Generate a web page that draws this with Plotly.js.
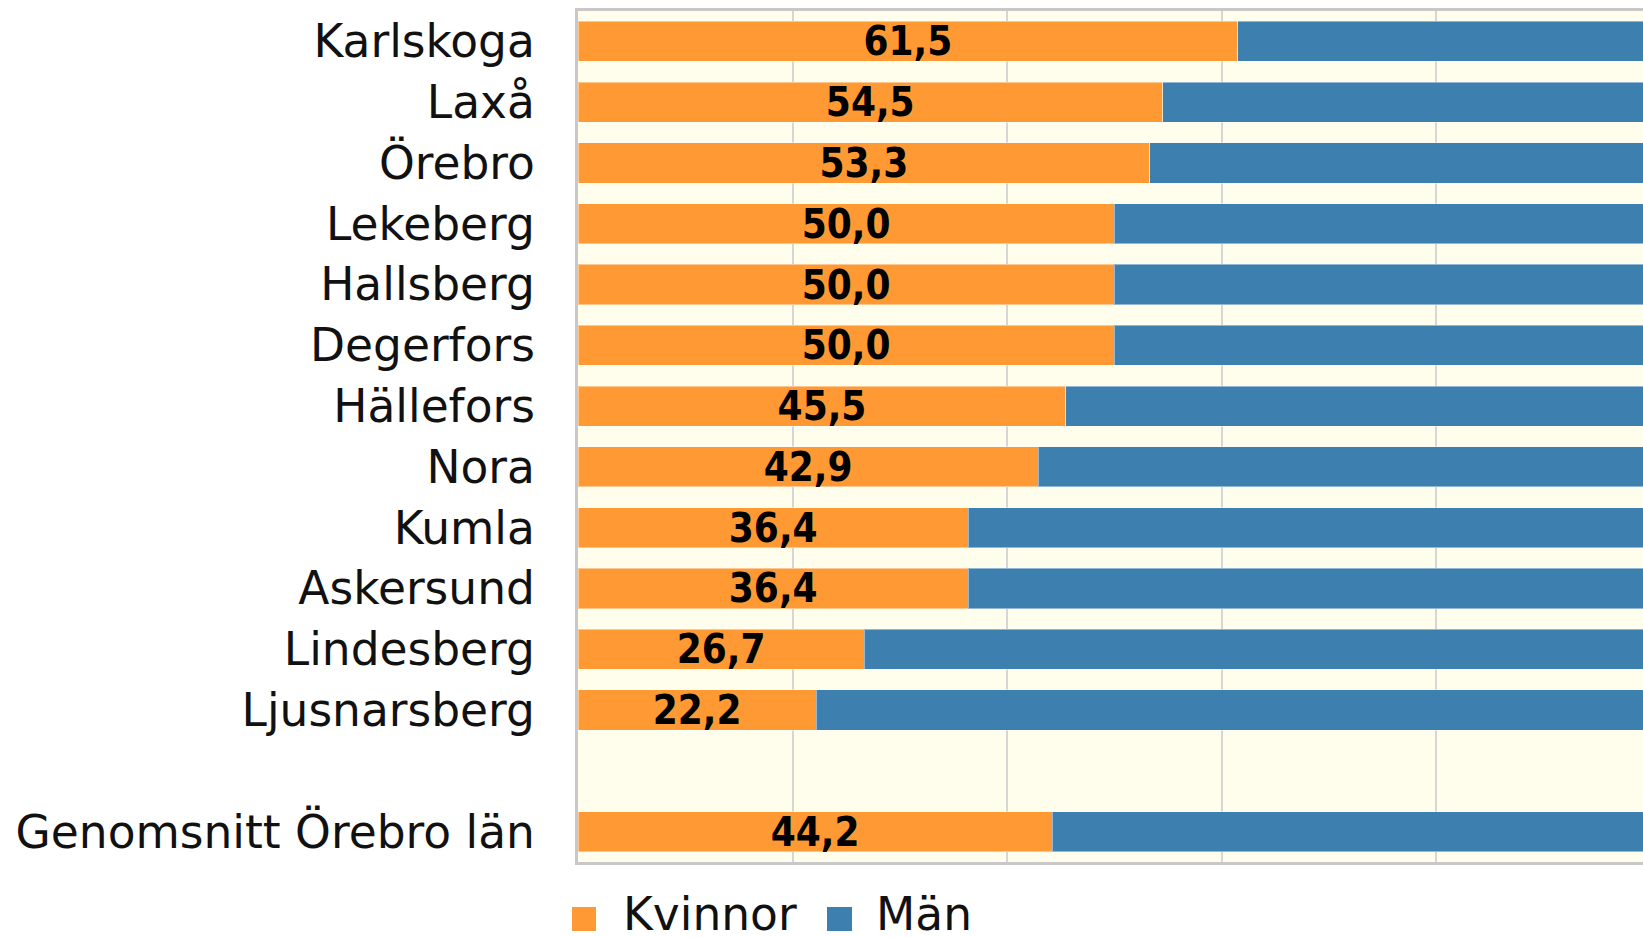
<!DOCTYPE html>
<html>
<head>
<meta charset="utf-8">
<script src="https://cdn.plot.ly/plotly-3.0.1.min.js"></script>
<style>html,body{margin:0;padding:0;background:#fff;overflow:hidden}</style>
</head>
<body>
<div id="chart" style="width:1643px;height:937px"></div>
<script>
const categories = ["Karlskoga","Laxå","Örebro","Lekeberg","Hallsberg","Degerfors","Hällefors","Nora","Kumla","Askersund","Lindesberg","Ljusnarsberg"," ","Genomsnitt Örebro län"];
const kvinnor = [61.5,54.5,53.3,50.0,50.0,50.0,45.5,42.9,36.4,36.4,26.7,22.2,null,44.2];
const man = [38.5,45.5,46.7,50.0,50.0,50.0,54.5,57.1,63.6,63.6,73.3,77.8,null,55.8];
const seriesNames = ["Kvinnor","Män"];
const colors = ["#FF9933","#3D7FAF"];

const L = 578, T = 11, W = 1643, H = 937, B = 75;
const pw = W - L, ph = H - T - B;
const px = v => (v - L) / pw;
const py = v => (H - B - v) / ph;

const traces = [
  {
    type: "bar", orientation: "h", name: seriesNames[0],
    y: categories, x: kvinnor,
    marker: {color: colors[0], line: {color: "rgba(255,255,255,0.45)", width: 1}},
    texttemplate: "%{x:.1f}", textposition: "inside", insidetextanchor: "middle",
    constraintext: "none", textangle: 0,
    textfont: {family: "DejaVu Sans Condensed, DejaVu Sans", size: 40, color: "#000", weight: "bold"},
    showlegend: false, hoverinfo: "x+y"
  },
  {
    type: "bar", orientation: "h", name: seriesNames[1],
    y: categories, x: man,
    marker: {color: colors[1], line: {color: "rgba(255,255,255,0.45)", width: 1}},
    showlegend: false, hoverinfo: "x+y"
  }
];

const layout = {
  width: W, height: H,
  margin: {l: L, r: 0, t: T, b: B, pad: 0},
  barmode: "stack", bargap: 0.34,
  separators: ",.",
  paper_bgcolor: "#ffffff", plot_bgcolor: "#FFFEEC",
  font: {family: "DejaVu Sans", size: 45.5, color: "#111"},
  xaxis: {
    range: [0, 99.3], dtick: 20, tick0: 0, showticklabels: false, ticks: "",
    showgrid: true, gridcolor: "#d6d6d6", gridwidth: 2, zeroline: false,
    showline: true, mirror: true, linecolor: "#c8c8c8", linewidth: 3, fixedrange: true
  },
  yaxis: {
    type: "category", categoryorder: "array", categoryarray: categories,
    autorange: "reversed", ticks: "", ticklabelstandoff: 31,
    tickfont: {family: "DejaVu Sans", size: 45.5, color: "#111"},
    showline: true, mirror: true, linecolor: "#c8c8c8", linewidth: 3, showgrid: false, fixedrange: true
  },
  shapes: [
    {type: "rect", xref: "paper", yref: "paper", x0: px(572), x1: px(596), y0: py(931), y1: py(907), fillcolor: colors[0], line: {width: 0}},
    {type: "rect", xref: "paper", yref: "paper", x0: px(827), x1: px(852), y0: py(931), y1: py(907), fillcolor: colors[1], line: {width: 0}}
  ],
  annotations: [
    {xref: "paper", yref: "paper", x: px(621), y: py(915), xanchor: "left", yanchor: "middle", text: seriesNames[0], showarrow: false, font: {family: "DejaVu Sans", size: 45.5, color: "#111"}},
    {xref: "paper", yref: "paper", x: px(874), y: py(915), xanchor: "left", yanchor: "middle", text: seriesNames[1], showarrow: false, font: {family: "DejaVu Sans", size: 45.5, color: "#111"}}
  ]
};

Plotly.newPlot("chart", traces, layout, {displayModeBar: false, staticPlot: true});
</script>
</body>
</html>
